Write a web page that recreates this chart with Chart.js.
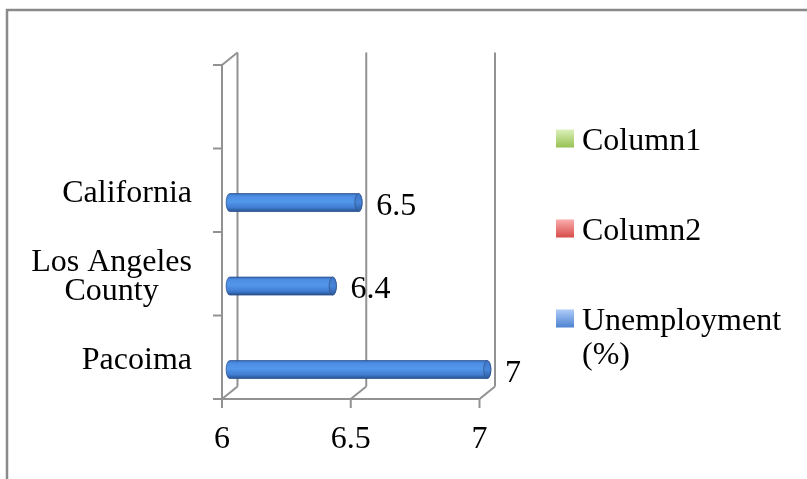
<!DOCTYPE html>
<html>
<head>
<meta charset="utf-8">
<title>Unemployment (%)</title>
<script src="https://cdn.jsdelivr.net/npm/chart.js@4/dist/chart.umd.min.js"></script>
<style>
  html, body { margin: 0; padding: 0; background: #ffffff; overflow: hidden; }
  #wrap { width: 807px; height: 479px; position: relative; }
</style>
</head>
<body>
<div id="wrap"><canvas id="chart" width="807" height="479"></canvas></div>
<script>
// ---- data ----
const categories = ['Pacoima', 'Los Angeles County', 'California', ''];
const column1 = [null, null, null, null];
const column2 = [null, null, null, null];
const unemployment = [7, 6.4, 6.5, null];
const seriesNames = ['Column1', 'Column2', 'Unemployment (%)'];
const xTickValues = [6, 6.5, 7];

// ---- styling ----
const FONT = 'Liberation Serif, Times New Roman, serif';
const FONT_SIZE = 32;
const FRAME = '#929292';
const DEPTH = { dx: 15.5, dy: -12.5 };          // 3-D wall offset
const swatches = [
  ['#d9efb7', '#95c04f'],   // green
  ['#faaaaa', '#d64a47'],   // red
  ['#abcaf7', '#4a80cf']    // blue
];

function wrapLabel(text, maxChars) {
  const words = String(text).split(' ');
  const lines = [];
  let line = '';
  for (const w of words) {
    const next = line ? line + ' ' + w : w;
    if (next.length > maxChars && line) { lines.push(line); line = w; }
    else line = next;
  }
  if (line) lines.push(line);
  return lines;
}

// 3-D frame: side wall, back-wall gridlines, floor edges and tick marks
const frame3d = {
  id: 'frame3d',
  beforeDraw(chart) {
    const ctx = chart.ctx;
    ctx.save();
    ctx.strokeStyle = '#8a8a8a';
    ctx.lineWidth = 2.5;
    ctx.strokeRect(7, 10, 1200, 800);
    ctx.restore();
  },
  beforeDatasetsDraw(chart) {
    const { ctx, chartArea: a, scales: { x, y } } = chart;
    const { dx, dy } = DEPTH;
    ctx.save();
    ctx.strokeStyle = FRAME;
    ctx.lineWidth = 2;
    ctx.lineCap = 'butt';
    const line = (x1, y1, x2, y2) => { ctx.beginPath(); ctx.moveTo(x1, y1); ctx.lineTo(x2, y2); ctx.stroke(); };

    // front vertical axis + top edge of side wall
    line(a.left, a.top, a.left, a.bottom);
    line(a.left, a.top, a.left + dx, a.top + dy);

    // value gridlines on the back wall and floor edges
    x.ticks.forEach(t => {
      const px = x.getPixelForValue(t.value);
      line(px + dx, a.top + dy, px + dx, a.bottom + dy);
      line(px, a.bottom, px + dx, a.bottom + dy);
      line(px, a.bottom, px, a.bottom + 9);
    });
    // front horizontal axis
    line(a.left, a.bottom, x.getPixelForValue(x.max), a.bottom);

    // category boundary ticks
    const n = y.ticks.length;
    const band = (a.bottom - a.top) / n;
    for (let i = 0; i <= n; i++) {
      const py = a.top + i * band;
      line(a.left - 9, py, a.left, py);
    }

    // category labels: block right-aligned to the axis, lines centred in the block
    ctx.font = FONT_SIZE + 'px ' + FONT;
    ctx.fillStyle = '#000';
    ctx.textAlign = 'center';
    ctx.textBaseline = 'alphabetic';
    const lh = 29;
    y.ticks.forEach((t, i) => {
      const lines = wrapLabel(y.getLabelForValue(t.value), 12);
      if (!lines.length) return;
      const w = Math.max(...lines.map(s => ctx.measureText(s).width));
      const cx = a.left - 30 - w / 2;
      const py = y.getPixelForTick(i);
      const first = py + 12 - (lines.length - 1) * lh / 2;
      lines.forEach((s, k) => ctx.fillText(s, cx, first + k * lh));
    });
    ctx.restore();
  },
  afterDatasetsDraw(chart) {
    const { ctx, scales: { x } } = chart;
    const { dx, dy } = DEPTH;
    const axisStart = x.getPixelForValue(x.min);
    chart.data.datasets.forEach((ds, di) => {
      const meta = chart.getDatasetMeta(di);
      meta.data.forEach((el, i) => {
        const v = ds.data[i];
        if (v === null || v === undefined) return;
        const x0 = Math.max(el.base, axisStart) + dx / 2;
        const x1 = el.x + dx / 2;
        const cy = el.y + dy / 2;
        const r = el.height / 2 - 0.3;
        const rx = 3.6;
        const g = ctx.createLinearGradient(0, cy - r, 0, cy + r);
        g.addColorStop(0, '#3a70bd');
        g.addColorStop(0.15, '#4d8ee4');
        g.addColorStop(0.45, '#5297ea');
        g.addColorStop(0.78, '#417dd2');
        g.addColorStop(1, '#27518e');
        ctx.save();
        ctx.beginPath();
        ctx.ellipse(x0, cy, rx, r, 0, Math.PI / 2, Math.PI * 1.5, false);
        ctx.lineTo(x1, cy - r);
        ctx.ellipse(x1, cy, rx, r, 0, -Math.PI / 2, Math.PI / 2, false);
        ctx.closePath();
        ctx.fillStyle = g;
        ctx.fill();
        ctx.strokeStyle = 'rgba(40,78,140,0.75)';
        ctx.lineWidth = 1;
        ctx.stroke();
        // end cap
        const gc = ctx.createLinearGradient(0, cy - r, 0, cy + r);
        gc.addColorStop(0, '#3f77c6');
        gc.addColorStop(0.5, '#4886da');
        gc.addColorStop(1, '#2c5a9c');
        ctx.beginPath();
        ctx.ellipse(x1, cy, rx, r, 0, 0, Math.PI * 2);
        ctx.fillStyle = gc;
        ctx.fill();
        ctx.strokeStyle = 'rgba(50,85,140,0.8)';
        ctx.stroke();
        // value label
        ctx.fillStyle = '#000';
        ctx.font = FONT_SIZE + 'px ' + FONT;
        ctx.textAlign = 'left';
        ctx.textBaseline = 'alphabetic';
        ctx.fillText(String(v), el.x + dx + 10, cy + 12);
        ctx.restore();
      });
    });
  },
  afterDraw(chart) {
    // legend on the right
    const ctx = chart.ctx;
    const lineH = 34, gap = 56, sq = 18;
    const left = 556, textX = 582;
    let top = 122;
    ctx.save();
    ctx.font = FONT_SIZE + 'px ' + FONT;
    ctx.textAlign = 'left';
    ctx.textBaseline = 'alphabetic';
    chart.data.datasets.forEach((ds, i) => {
      const lines = wrapLabel(ds.label, 12);
      const c0 = top + lineH / 2;
      const g = ctx.createLinearGradient(0, c0 - sq / 2, 0, c0 + sq / 2);
      g.addColorStop(0, swatches[i][0]);
      g.addColorStop(1, swatches[i][1]);
      ctx.fillStyle = g;
      ctx.fillRect(left, c0 - sq / 2 - 0.5, sq, sq);
      ctx.fillStyle = '#000';
      lines.forEach((t, k) => ctx.fillText(t, textX, c0 + k * lineH + 11));
      top += lines.length * lineH + gap;
    });
    ctx.restore();
  }
};

const hidden = 'rgba(0,0,0,0)';
new Chart(document.getElementById('chart'), {
  type: 'bar',
  data: {
    labels: categories,
    datasets: [
      { label: seriesNames[0], data: column1, backgroundColor: hidden },
      { label: seriesNames[1], data: column2, backgroundColor: hidden },
      { label: seriesNames[2], data: unemployment, backgroundColor: hidden }
    ]
  },
  options: {
    indexAxis: 'y',
    responsive: false,
    animation: false,
    devicePixelRatio: 1,
    categoryPercentage: 3 / 4.5,
    barPercentage: 1,
    layout: { padding: { top: 65, left: 0, right: 327.5, bottom: 0 } },
    plugins: { legend: { display: false }, tooltip: { enabled: false } },
    scales: {
      x: {
        type: 'linear',
        min: 6,
        max: 7,
        afterBuildTicks(scale) { scale.ticks = xTickValues.map(v => ({ value: v })); },
        afterFit(scale) { scale.height = 80; },
        grid: { display: false, drawTicks: false },
        border: { display: false },
        ticks: {
          autoSkip: false,
          maxRotation: 0,
          padding: 21,
          color: '#000',
          font: { family: FONT, size: FONT_SIZE, lineHeight: 1.2 },
          callback: v => String(v)
        }
      },
      y: {
        type: 'category',
        reverse: true,
        offset: true,
        afterFit(scale) { scale.width = 222; },
        grid: { display: false, drawTicks: false },
        border: { display: false },
        ticks: { display: false, autoSkip: false }
      }
    }
  },
  plugins: [frame3d]
});
</script>
</body>
</html>
